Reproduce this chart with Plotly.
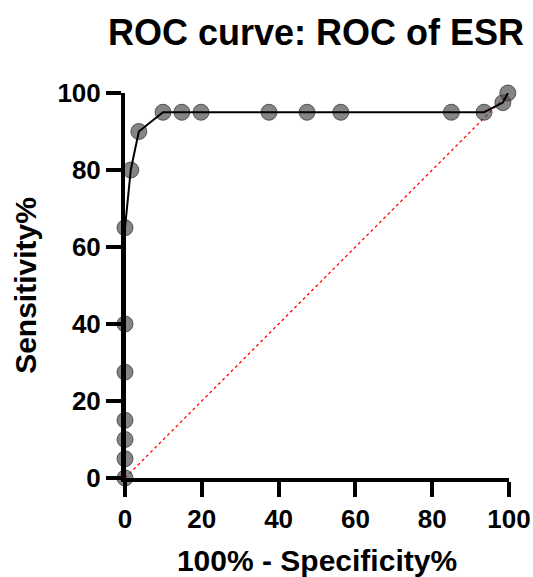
import plotly.graph_objects as go

# 100% - Specificity% (x) and Sensitivity% (y) of ROC points
fpr = [0, 0, 0, 0, 0, 0, 0, 1.5, 3.6, 9.9, 14.8, 19.8, 37.5, 47.4, 56.2, 85.0, 93.5, 98.4, 99.7]
tpr = [0, 5, 10, 15, 27.5, 40, 65, 80, 90, 95, 95, 95, 95, 95, 95, 95, 95, 97.5, 100]
diag_x = [0, 100]
diag_y = [0, 100]
ticks = [0, 20, 40, 60, 80, 100]

FONT = "Liberation Sans, Arial, sans-serif"

fig = go.Figure()
fig.add_trace(go.Scatter(x=diag_x, y=diag_y, mode="lines",
                         line=dict(color="red", width=1.3, dash="dot"),
                         cliponaxis=False, showlegend=False, hoverinfo="skip"))
fig.add_trace(go.Scatter(x=fpr, y=tpr, mode="markers",
                         marker=dict(size=16, color="rgba(70,70,70,0.66)",
                                     line=dict(color="rgba(60,60,60,0.8)", width=1)),
                         cliponaxis=False, showlegend=False))
fig.add_trace(go.Scatter(x=fpr, y=tpr, mode="lines",
                         line=dict(color="black", width=2),
                         cliponaxis=False, showlegend=False))

axis_common = dict(
    range=[0, 100], tickvals=ticks, ticktext=[str(t) for t in ticks],
    showline=True, linewidth=4, linecolor="black", mirror=False,
    ticks="outside", ticklen=15, tickwidth=4, tickcolor="black",
    showgrid=False, zeroline=False, automargin=False,
    tickfont=dict(family=FONT, size=26, color="black", weight="bold"),
)

fig.update_layout(
    width=533, height=577,
    margin=dict(l=125, r=24, t=93, b=99),
    paper_bgcolor="white", plot_bgcolor="white",
    title=dict(text="ROC curve: ROC of ESR", x=0.593, xanchor="center", y=0.943, yanchor="middle",
               font=dict(family=FONT, size=36, color="black", weight="bold")),
    xaxis=dict(**axis_common,
               title=dict(text="100% - Specificity%", standoff=20,
                          font=dict(family=FONT, size=30, color="black", weight="bold"))),
    yaxis=dict(**axis_common,
               title=dict(text="Sensitivity%", standoff=13,
                          font=dict(family=FONT, size=30, color="black", weight="bold"))),
)

fig.write_html("out.html")
